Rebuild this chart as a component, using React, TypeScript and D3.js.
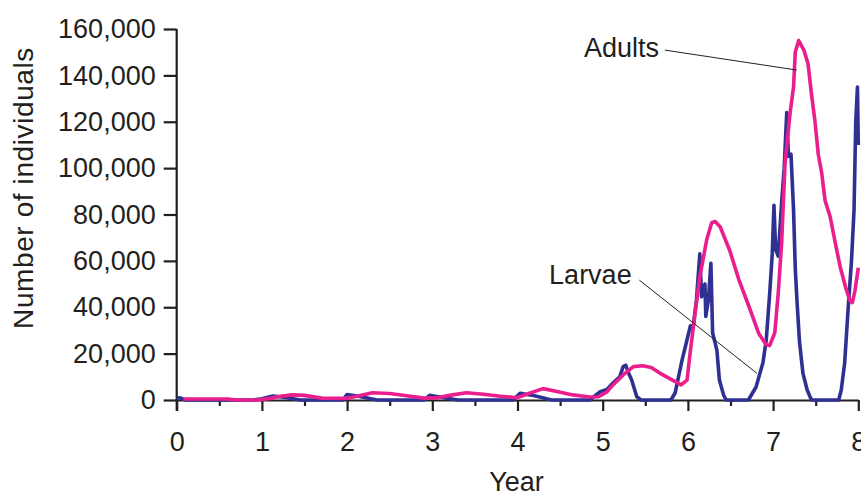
import React, { useEffect, useRef } from 'react';
import * as d3 from 'd3';

// larvae (blue) – spiky series
const larvaeYears = [
  0, 0.05, 0.1, 0.9, 1.0, 1.13, 1.3, 1.45, 1.95, 2.0, 2.15, 2.35, 2.9, 2.97, 3.1, 3.3,
  3.95, 4.03, 4.2, 4.4, 4.85, 4.97, 5.05, 5.12, 5.2, 5.24, 5.27, 5.3, 5.34, 5.4, 5.45,
  5.8, 5.85, 5.93, 5.99, 6.03, 6.06, 6.1, 6.14, 6.16, 6.2, 6.21, 6.24, 6.27, 6.29, 6.34,
  6.37, 6.42, 6.45, 6.71, 6.8, 6.88, 6.92, 6.96, 6.99, 7.01, 7.03, 7.06, 7.1, 7.13, 7.16,
  7.18, 7.21, 7.24, 7.26, 7.28, 7.31, 7.35, 7.4, 7.45, 7.77, 7.8, 7.84, 7.88, 7.92, 7.95,
  7.97, 7.99, 8.0,
];
const larvaeCounts = [
  1000, 800, 0, 0, 500, 1700, 1000, 0, 0, 2400, 1500, 0, 0, 2000, 1200, 0,
  0, 2900, 1800, 0, 0, 3600, 4500, 7300, 10000, 14400, 15000, 12000, 8600, 1400, 0,
  0, 3000, 17000, 26000, 32000, 31000, 43000, 63000, 44500, 50000, 36000, 43000, 59000, 29000, 21500,
  8600, 2000, 0, 0, 5600, 16000, 26000, 46000, 63000, 84000, 65000, 62000, 85000, 100000, 124000,
  105000, 106000, 82000, 57000, 43000, 25000, 11600, 4300, 0, 0, 4300, 16000, 39000, 60000, 82000,
  120000, 135000, 110000,
];

// adults (magenta)
const adultYears = [
  0.08, 0.6, 0.7, 0.95, 1.1, 1.2, 1.35, 1.5, 1.7, 2.0, 2.1, 2.3, 2.5, 2.7, 2.9, 3.05,
  3.2, 3.4, 3.6, 3.8, 4.0, 4.15, 4.3, 4.45, 4.65, 4.85, 4.95, 5.05, 5.12, 5.24, 5.36,
  5.47, 5.57, 5.67, 5.82, 5.92, 5.99, 6.03, 6.09, 6.14, 6.22, 6.28, 6.32, 6.38, 6.49,
  6.6, 6.72, 6.83, 6.92, 6.96, 7.02, 7.06, 7.1, 7.14, 7.2, 7.24, 7.26, 7.3, 7.36, 7.41,
  7.45, 7.49, 7.53, 7.57, 7.61, 7.67, 7.73, 7.79, 7.85, 7.9, 7.93, 7.96, 8.0,
];
const adultCounts = [
  400, 400, 0, 0, 700, 1500, 2200, 2000, 800, 700, 1500, 3100, 2800, 1800, 800, 900,
  2000, 3100, 2500, 1600, 1000, 3000, 4900, 3800, 2200, 1300, 1400, 3500, 6500, 10800, 14400,
  14800, 14000, 11600, 8600, 6500, 8600, 21500, 39000, 53000, 69000, 76500, 77000, 74600, 64600,
  51700, 40000, 28800, 23700, 23500, 29000, 46000, 67700, 102000, 124000, 135000, 150000, 155000, 151000, 145000,
  132000, 120700, 106000, 98000, 86000, 79000, 67700, 57000, 48700, 43000, 42000, 47000, 57000,
];

const yTicks = [0, 20000, 40000, 60000, 80000, 100000, 120000, 140000, 160000];
const xTicks = [0, 1, 2, 3, 4, 5, 6, 7, 8];
const xMinorTicks = [0.5, 1.5, 2.5, 3.5, 4.5, 5.5, 6.5, 7.5];

// callouts: text anchor point, and where the leader line touches the curve
const calloutLabels = ['Adults', 'Larvae'];
const calloutTextYear = [5.66, 5.34];
const calloutTextValue = [147900, 50000];
const calloutFromYear = [5.73, 5.43];
const calloutFromValue = [150900, 51700];
const calloutToYear = [7.277, 6.81];
const calloutToValue = [142300, 11500];

const W = 861;
const H = 494;
const FONT = "'Liberation Sans', Arial, Helvetica, sans-serif";
const INK = '#231f20';
const BLUE = '#2e3192';
const PINK = '#ea1e8c';

const App = () => {
  const ref = useRef<SVGSVGElement>(null);

  useEffect(() => {
    const svg = d3.select(ref.current);
    svg.selectAll('*').remove();

    const x = d3.scaleLinear().domain([0, 8]).range([176.7, 858.3]);
    const y = d3.scaleLinear().domain([0, 160000]).range([400, 29]);

    // y axis
    const yAxis = svg
      .append('g')
      .attr('transform', `translate(${x(0)},0)`)
      .call(
        d3
          .axisLeft(y)
          .tickValues(yTicks)
          .tickSize(13)
          .tickPadding(8)
          .tickFormat(d3.format(','))
      );
    yAxis.select('.domain').remove();
    yAxis
      .append('line')
      .attr('y1', y(160000))
      .attr('y2', y(0) + 11)
      .attr('stroke', INK)
      .attr('stroke-width', 2.2);

    // x axis
    const xAxis = svg
      .append('g')
      .attr('transform', `translate(0,${y(0)})`)
      .call(d3.axisBottom(x).tickValues(xTicks).tickSize(11).tickSizeOuter(0).tickPadding(21));
    xAxis.select('.domain').attr('stroke-width', 2.2).attr('stroke', INK);

    svg
      .append('g')
      .attr('transform', `translate(0,${y(0)})`)
      .call(d3.axisBottom(x).tickValues(xMinorTicks).tickSize(6).tickFormat(() => ''))
      .select('.domain')
      .remove();

    svg
      .selectAll('.tick line')
      .attr('stroke', INK)
      .attr('stroke-width', 2.2);
    svg
      .selectAll('.tick text')
      .attr('fill', INK)
      .style('font-family', FONT)
      .style('font-size', '27px');

    // axis titles
    svg
      .append('text')
      .attr('x', (x(0) + x(8)) / 2 - 1)
      .attr('y', 491)
      .attr('text-anchor', 'middle')
      .attr('fill', INK)
      .style('font-family', FONT)
      .style('font-size', '27px')
      .text('Year');

    svg
      .append('text')
      .attr('transform', `translate(33,188) rotate(-90)`)
      .attr('text-anchor', 'middle')
      .attr('fill', INK)
      .style('font-family', FONT)
      .style('font-size', '28px')
      .style('letter-spacing', '0.6px')
      .text('Number of individuals');

    // series
    const line = d3
      .line<[number, number]>()
      .x((d) => x(d[0]))
      .y((d) => y(d[1]));

    const larvae = larvaeYears.map((yr, i) => [yr, larvaeCounts[i]] as [number, number]);
    const adults = adultYears.map((yr, i) => [yr, adultCounts[i]] as [number, number]);

    svg
      .append('path')
      .attr('d', line(larvae))
      .attr('fill', 'none')
      .attr('stroke', BLUE)
      .attr('stroke-width', 3.6)
      .attr('stroke-linejoin', 'round');

    svg
      .append('path')
      .attr('d', line(adults))
      .attr('fill', 'none')
      .attr('stroke', PINK)
      .attr('stroke-width', 3.6)
      .attr('stroke-linejoin', 'round');

    // callouts
    calloutLabels.forEach((label, i) => {
      svg
        .append('line')
        .attr('x1', x(calloutFromYear[i]))
        .attr('y1', y(calloutFromValue[i]))
        .attr('x2', x(calloutToYear[i]))
        .attr('y2', y(calloutToValue[i]))
        .attr('stroke', INK)
        .attr('stroke-width', 1);
      svg
        .append('text')
        .attr('x', x(calloutTextYear[i]))
        .attr('y', y(calloutTextValue[i]))
        .attr('text-anchor', 'end')
        .attr('fill', INK)
        .style('font-family', FONT)
        .style('font-size', '27px')
        .text(label);
    });
  }, []);

  return (
    <svg
      ref={ref}
      width={W}
      height={H}
      style={{ position: 'absolute', left: 0, top: 0, background: '#fff' }}
    />
  );
};

export default App;
